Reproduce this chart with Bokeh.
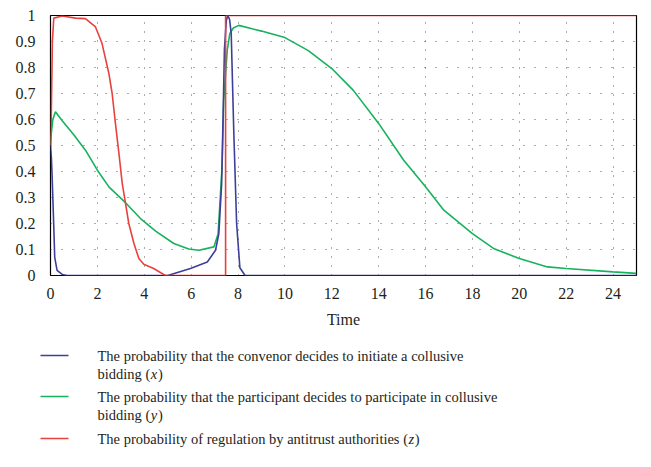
from bokeh.plotting import figure
from bokeh.layouts import column
from bokeh.models import Range1d, FixedTicker
from bokeh.embed import file_html
from bokeh.resources import INLINE
from bokeh.core.properties import value

# ---- data ----
t_x = [0, 0.04, 0.07, 0.14, 0.18, 0.28, 0.5, 0.7, 5.0, 5.97, 6.69, 7.04, 7.18, 7.3, 7.36,
       7.42, 7.5, 7.56, 7.64, 7.71, 7.82, 7.94, 8.08, 8.3, 25]
x_vals = [0.5, 0.45, 0.38, 0.187, 0.07, 0.02, 0.004, 0, 0, 0.027, 0.052, 0.097, 0.16, 0.35,
          0.6, 0.87, 0.98, 1.0, 0.985, 0.93, 0.55, 0.2, 0.03, 0, 0]

t_y = [0, 0.02, 0.1, 0.21, 0.5, 1, 1.49, 2, 2.5, 3.2, 3.84, 4.5, 5.26, 5.9, 6.33, 6.97,
       7.15, 7.32, 7.39, 7.54, 7.65, 7.8, 8.03, 9, 10, 11, 12, 12.92, 14, 15.06, 16, 16.78,
       18, 18.9, 20, 21.2, 22, 24, 25]
y_vals = [0.5, 0.535, 0.6, 0.63, 0.595, 0.54, 0.482, 0.405, 0.34, 0.28, 0.219, 0.17, 0.123,
          0.102, 0.097, 0.11, 0.16, 0.42, 0.675, 0.867, 0.93, 0.952, 0.962, 0.94, 0.915, 0.865,
          0.796, 0.712, 0.585, 0.444, 0.341, 0.251, 0.161, 0.104, 0.065, 0.033, 0.027, 0.014,
          0.008]

t_z = [0, 0.02, 0.08, 0.14, 0.5, 1.07, 1.49, 1.92, 2.2, 2.49, 2.63, 2.77, 2.92, 3.06, 3.2,
       3.34, 3.56, 3.77, 3.98, 4.4, 4.9, 7.47, 7.47, 25]
z_vals = [0.5, 0.535, 0.9, 0.99, 0.998, 0.99, 0.988, 0.956, 0.892, 0.777, 0.70, 0.585, 0.469,
          0.354, 0.277, 0.2, 0.123, 0.065, 0.043, 0.027, 0, 0, 1, 1]

x_ticks = [0, 2, 4, 6, 8, 10, 12, 14, 16, 18, 20, 22, 24]
y_ticks = [0, 0.1, 0.2, 0.3, 0.4, 0.5, 0.6, 0.7, 0.8, 0.9, 1]
y_tick_labels = ["0", "0.1", "0.2", "0.3", "0.4", "0.5", "0.6", "0.7", "0.8", "0.9", "1"]

legend_first = [
    "The probability that the convenor decides to initiate a collusive",
    "The probability that the participant decides to participate in collusive",
    "The probability of regulation by antitrust authorities (",
]
legend_var = ["x", "y", "z"]

BLUE = "#3d3f9a"
GREEN = "#16b25c"
RED = "#e8423f"
colors = [BLUE, GREEN, RED]
FONT = "Liberation Serif"
TXT = "#231f20"

# ---- main plot ----
W = 645
p = figure(width=W, height=330, output_backend="svg", toolbar_location=None,
           x_range=Range1d(0, 25), y_range=Range1d(0, 1),
           min_border_left=50, min_border_right=9, min_border_top=15, min_border_bottom=55)
p.outline_line_color = "black"
p.outline_line_width = 1.2

p.xaxis.ticker = FixedTicker(ticks=x_ticks)
p.yaxis.ticker = FixedTicker(ticks=y_ticks)
p.yaxis.major_label_overrides = {v: s for v, s in zip(y_ticks, y_tick_labels)}
p.xaxis.major_label_overrides = {v: str(v) for v in x_ticks}
for ax in (p.xaxis[0], p.yaxis[0]):
    ax.axis_line_color = None
    ax.major_tick_line_color = None
    ax.minor_tick_line_color = None
    ax.major_label_text_font = FONT
    ax.major_label_text_font_size = "16px"
    ax.major_label_text_color = TXT
p.xaxis.major_label_standoff = 6
p.yaxis.major_label_standoff = 9
p.xaxis.axis_label = "Time"
p.xaxis.axis_label_text_font = FONT
p.xaxis.axis_label_text_font_style = "normal"
p.xaxis.axis_label_text_font_size = "16px"
p.xaxis.axis_label_text_color = TXT
p.xaxis.axis_label_standoff = 9

p.xgrid.grid_line_color = "#333333"
p.xgrid.grid_line_dash = "1 8"
p.xgrid.grid_line_alpha = 0.8
p.ygrid.grid_line_color = "#333333"
p.ygrid.grid_line_dash = "1 10"
p.ygrid.grid_line_alpha = 0.8

p.line(t_y, y_vals, line_color=GREEN, line_width=1.6)
p.line(t_x, x_vals, line_color=BLUE, line_width=1.6)
p.line(t_z, z_vals, line_color=RED, line_width=1.6)

# ---- legend panel (pixel coordinates) ----
LH = 130
lg = figure(width=W, height=LH, output_backend="svg", toolbar_location=None,
            x_range=Range1d(0, W), y_range=Range1d(LH, 0),
            min_border=0, min_border_left=0, min_border_right=0, min_border_top=0,
            min_border_bottom=0)
lg.axis.visible = False
lg.grid.visible = False
lg.outline_line_color = None
for fig in (p, lg):
    if "frame_align" in fig.properties():
        fig.frame_align = False

row_y = [25, 66, 108]
LX0, LX1, TX = 40, 68, 97
FS = "14.5px"


def txt(x, y, s, style="normal"):
    lg.text(x=[x], y=[y], text=[s], text_font=value(FONT), text_font_size=FS,
            text_font_style=style, text_baseline="middle", text_align="left",
            text_color=TXT)


for i in range(3):
    yy = row_y[i]
    lg.segment(x0=[LX0], y0=[yy], x1=[LX1], y1=[yy], line_color=colors[i], line_width=1.6)
    txt(TX, yy, legend_first[i])
    if i < 2:
        txt(TX, yy + 18, "bidding (")
        txt(TX + 53.2, yy + 18, legend_var[i], "italic")
        txt(TX + 60.5, yy + 18, ")")
    else:
        txt(TX + 311, yy, legend_var[i], "italic")
        txt(TX + 317.2, yy, ")")

layout = column(p, lg, spacing=0)
open("out.html", "w").write(file_html(layout, INLINE))
